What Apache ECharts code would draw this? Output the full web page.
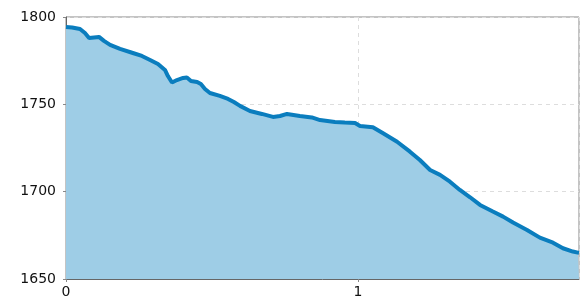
<!doctype html>
<html lang="en">
<head>
    <meta charset="UTF-8">
    <script src="https://cdn.jsdelivr.net/npm/echarts@6/dist/echarts.min.js"></script>
    <title>profile</title>
    <style>
        html, body { margin: 0; padding: 0; background: #fff; }
    </style>
</head>
<body>
<div id="main" style="width: 587px;height:301px;"></div>
<script>
    // distance values (x) and elevation values (y)
    var dist = [0.000, 0.021, 0.048, 0.065, 0.079, 0.096, 0.113, 0.130, 0.151, 0.185,
        0.229, 0.260, 0.288, 0.315, 0.339, 0.349, 0.363, 0.380, 0.401, 0.414,
        0.428, 0.449, 0.462, 0.476, 0.493, 0.527, 0.555, 0.575, 0.596, 0.630,
        0.671, 0.709, 0.733, 0.757, 0.801, 0.842, 0.870, 0.921, 0.955, 0.990,
        1.007, 1.051, 1.086, 1.134, 1.178, 1.212, 1.247, 1.281, 1.315, 1.349,
        1.384, 1.418, 1.462, 1.497, 1.531, 1.579, 1.623, 1.668, 1.702, 1.736,
        1.753, 1.757];
    var elev = [1794.3, 1794.0, 1793.1, 1790.8, 1788.0, 1788.3, 1788.6, 1786.3, 1784.0, 1781.7,
        1779.4, 1777.7, 1775.4, 1773.1, 1769.7, 1766.2, 1762.5, 1763.9, 1765.1, 1765.4,
        1763.4, 1762.8, 1761.6, 1758.8, 1756.5, 1754.8, 1753.1, 1751.3, 1749.1, 1746.2,
        1744.5, 1742.8, 1743.3, 1744.5, 1743.3, 1742.5, 1741.0, 1739.9, 1739.6, 1739.3,
        1737.6, 1736.9, 1733.4, 1728.6, 1722.9, 1718.1, 1712.4, 1709.6, 1705.7, 1701.0,
        1696.8, 1692.4, 1688.6, 1685.7, 1682.3, 1678.1, 1673.7, 1670.8, 1667.6, 1665.7,
        1665.1, 1665.0];
    var yTicks = [1650, 1700, 1750, 1800];
    var xTicks = [0, 1];

    var points = [];
    for (var i = 0; i < dist.length; i++) {
        points.push([dist[i], elev[i]]);
    }

    var myChart = echarts.init(document.getElementById('main'));
    var option = {
        animation: false,
        grid: {
            left: 66, right: 8, top: 17, bottom: 22,
            show: true,
            borderColor: '#888',
            borderWidth: 1
        },
        xAxis: {
            type: 'value',
            min: 0,
            max: dist[dist.length - 1],
            interval: 1,
            axisLine: { show: true, lineStyle: { color: '#666', width: 1 } },
            axisTick: { show: true, length: 3, lineStyle: { color: '#888' } },
            axisLabel: {
                margin: 6,
                color: '#111',
                fontFamily: 'DejaVu Sans',
                fontSize: 14,
                showMaxLabel: false,
                formatter: function (v) { return xTicks.indexOf(v) >= 0 ? String(v) : ''; }
            },
            splitLine: { show: true, lineStyle: { color: '#ddd', type: [4, 4] } }
        },
        yAxis: {
            type: 'value',
            min: yTicks[0],
            max: yTicks[yTicks.length - 1],
            interval: 50,
            axisLine: { show: true, lineStyle: { color: '#666', width: 1 } },
            axisTick: { show: true, length: 3, lineStyle: { color: '#888' } },
            axisLabel: {
                margin: 10,
                color: '#111',
                fontFamily: 'DejaVu Sans',
                fontSize: 14,
                formatter: function (v) { return String(v); }
            },
            splitLine: { show: true, lineStyle: { color: '#ddd', type: [4, 4] } }
        },
        series: [{
            type: 'line',
            data: points,
            showSymbol: false,
            lineStyle: { color: '#0a7dbe', width: 4 },
            areaStyle: { color: '#9ecde6', opacity: 1 },
            z: 2
        }]
    };
    myChart.setOption(option);
</script>
</body>
</html>
